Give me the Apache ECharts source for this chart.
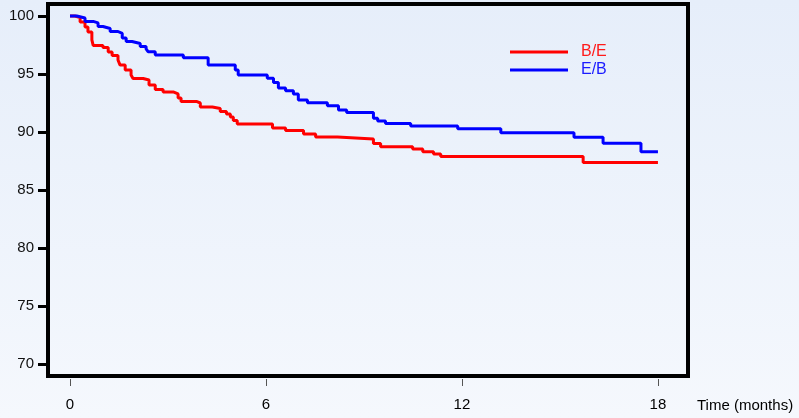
<!DOCTYPE html>
<html>
<head>
<meta charset="utf-8">
<script src="https://cdn.jsdelivr.net/npm/echarts@6/dist/echarts.min.js"></script>
<style>
  html, body { margin: 0; padding: 0; }
  #chart { width: 799px; height: 418px; }
</style>
</head>
<body>
<div id="chart"></div>
<script>
// step points: survival value holding from that time onwards
const beTime = [0, 0.15, 0.31, 0.46, 0.55, 0.67, 0.71, 1.01, 1.17, 1.29, 1.47, 1.53, 1.69, 1.87, 1.93, 2.24, 2.42, 2.61, 2.85, 3.16, 3.31, 3.40, 3.87, 3.99, 4.36, 4.60, 4.79, 4.91, 5.00, 5.12, 6.20, 6.60, 7.15, 7.52, 8.19, 9.29, 9.51, 10.49, 10.80, 11.13, 11.35, 15.71, 18.0]
const beSurv = [100, 99.87, 99.48, 99.05, 98.62, 97.93, 97.46, 97.28, 96.90, 96.59, 96.21, 95.78, 95.34, 94.91, 94.61, 94.48, 94.05, 93.66, 93.45, 93.28, 92.93, 92.63, 92.50, 92.16, 92.03, 91.77, 91.55, 91.29, 90.99, 90.69, 90.34, 90.13, 89.83, 89.57, 89.40, 89.01, 88.73, 88.53, 88.30, 88.10, 87.89, 87.37, 87.37]

const ebTime = [0, 0.21, 0.46, 0.71, 0.86, 1.01, 1.23, 1.47, 1.60, 1.72, 1.90, 2.15, 2.33, 2.39, 2.61, 3.47, 4.23, 5.06, 5.15, 6.04, 6.23, 6.38, 6.60, 6.84, 6.99, 7.27, 7.88, 8.22, 8.47, 9.29, 9.42, 9.66, 10.43, 11.87, 13.19, 15.43, 16.32, 17.48, 18.0]
const ebSurv = [100, 99.83, 99.53, 99.40, 99.09, 98.92, 98.66, 98.49, 98.10, 97.80, 97.63, 97.37, 97.16, 96.92, 96.64, 96.40, 95.78, 95.34, 94.91, 94.63, 94.27, 93.79, 93.56, 93.28, 92.76, 92.53, 92.27, 91.90, 91.67, 91.18, 90.95, 90.73, 90.52, 90.28, 89.94, 89.54, 89.03, 88.30, 88.30]

const xTicks = [0, 6, 12, 18]
const yTicks = [70, 75, 80, 85, 90, 95, 100]

const zip = (xs, ys) => xs.map((x, i) => [x, ys[i]])

const chart = echarts.init(document.getElementById('chart'), null, { renderer: 'canvas' })

chart.setOption({
  animation: false,
  backgroundColor: {
    type: 'linear', x: 0, y: 0, x2: 0, y2: 1,
    colorStops: [
      { offset: 0, color: '#e6eefa' },
      { offset: 1, color: '#f5f8fd' },
    ],
  },
  textStyle: { fontFamily: 'Liberation Sans, Arial, sans-serif' },
  grid: {
    left: 48, right: 111, top: 4, bottom: 42,
    show: true, borderColor: '#000', borderWidth: 4,
    backgroundColor: 'transparent',
  },
  legend: {
    orient: 'vertical',
    left: 510, top: 44, padding: 0,
    itemWidth: 58, itemHeight: 3, itemGap: 2,
    textStyle: { fontSize: 16, padding: [0, 0, 0, 8] },
    data: [
      { name: 'B/E', icon: 'rect', textStyle: { color: '#ff1a1a' } },
      { name: 'E/B', icon: 'rect', textStyle: { color: '#1a1aff' } },
    ],
  },
  xAxis: {
    type: 'value',
    min: -0.673, max: 18.92,
    offset: 3,
    axisLine: { show: false, onZero: false },
    axisTick: { customValues: xTicks, length: 7, lineStyle: { color: '#555', width: 1 } },
    axisLabel: { customValues: xTicks, fontSize: 15, color: '#000', margin: 18 },
    splitLine: { show: false },
  },
  yAxis: {
    type: 'value',
    min: 68.97, max: 101.03,
    axisLine: { show: false, onZero: false },
    axisTick: { customValues: yTicks, length: 10, lineStyle: { color: '#000', width: 3 } },
    axisLabel: { customValues: yTicks, fontSize: 15, color: '#111', margin: 14 },
    splitLine: { show: false },
  },
  graphic: [{
    type: 'text', left: 697, top: 398,
    style: { text: 'Time (months)', font: '15px Liberation Sans, Arial, sans-serif', fill: '#000' },
  }],
  series: [
    {
      name: 'B/E', type: 'line', step: 'end', symbol: 'none',
      data: zip(beTime, beSurv),
      lineStyle: { color: '#ff0000', width: 3 },
      itemStyle: { color: '#ff0000' },
    },
    {
      name: 'E/B', type: 'line', step: 'end', symbol: 'none',
      data: zip(ebTime, ebSurv),
      lineStyle: { color: '#0000ff', width: 3 },
      itemStyle: { color: '#0000ff' },
    },
  ],
})
</script>
</body>
</html>
